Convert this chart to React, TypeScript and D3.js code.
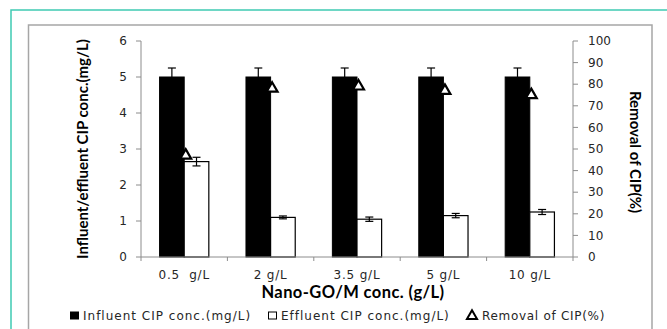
import React from "react";
import * as d3 from "d3";

// Nano-GO/M dose categories
const categories = ["0.5  g/L", "2 g/L", "3.5 g/L", "5 g/L", "10 g/L"];
// Influent CIP concentration (mg/L) and its error
const influent = [5, 5, 5, 5, 5];
const influentErr = [0.25, 0.25, 0.25, 0.25, 0.25];
// Effluent CIP concentration (mg/L) and its error
const effluent = [2.65, 1.1, 1.05, 1.15, 1.25];
const effluentErr = [0.12, 0.04, 0.06, 0.06, 0.07];
// Removal of CIP (%)
const removal = [47, 78, 79, 77, 75];

const leftTicks = [0, 1, 2, 3, 4, 5, 6];
const rightTicks = [0, 10, 20, 30, 40, 50, 60, 70, 80, 90, 100];

const W = 667;
const H = 329;
const plot = { left: 141, right: 573, top: 41, bottom: 257 };
const tickFont = "'DejaVu Sans', Verdana, sans-serif";
const titleFont = "Lato, 'Open Sans', sans-serif";
const axisColor = "#8c8c8c";

export default function App() {
  const x = d3
    .scaleBand<string>()
    .domain(categories)
    .range([plot.left, plot.right])
    .paddingInner(0.43)
    .paddingOuter(0.215);
  const sub = d3.scaleBand<number>().domain([0, 1]).range([0, x.bandwidth()]);
  const yL = d3.scaleLinear().domain([0, 6]).range([plot.bottom, plot.top]);
  const yR = d3.scaleLinear().domain([0, 100]).range([plot.bottom, plot.top]);
  const tri = d3.symbol().type(d3.symbolTriangle).size(52)();
  const legendTri = d3.symbol().type(d3.symbolTriangle).size(44)();
  const step = x.step();
  const catEdges = d3.range(categories.length + 1).map((i) => plot.left + i * step);

  const errBar = (cx: number, v: number, e: number, key: string) => (
    <g key={key} stroke="#000" strokeWidth={1.2}>
      <line x1={cx} x2={cx} y1={yL(v + e)} y2={yL(v - e)} />
      <line x1={cx - 4} x2={cx + 4} y1={yL(v + e)} y2={yL(v + e)} />
      <line x1={cx - 4} x2={cx + 4} y1={yL(v - e)} y2={yL(v - e)} />
    </g>
  );

  return (
    <svg
      width={W}
      height={H}
      style={{ position: "absolute", left: 0, top: 0, background: "#fff" }}
    >
      {/* outer frames */}
      <rect x={11} y={10} width={700} height={400} fill="none" stroke="#3fcab3" strokeWidth={1.5} />
      <rect x={28.5} y={25} width={623.5} height={400} fill="none" stroke="#a6a6a6" strokeWidth={1.5} />

      {/* bars */}
      {categories.map((c, i) => {
        const x0 = x(c)!;
        const bw = sub.bandwidth();
        return (
          <g key={c}>
            <rect
              x={x0 + sub(0)!}
              y={yL(influent[i])}
              width={bw}
              height={yL(0) - yL(influent[i])}
              fill="#000"
              stroke="#000"
            />
            <rect
              x={x0 + sub(1)!}
              y={yL(effluent[i])}
              width={bw}
              height={yL(0) - yL(effluent[i])}
              fill="#fff"
              stroke="#000"
              strokeWidth={1.2}
            />
            {errBar(x0 + sub(0)! + bw / 2, influent[i], influentErr[i], "ei")}
            {errBar(x0 + sub(1)! + bw / 2, effluent[i], effluentErr[i], "ee")}
          </g>
        );
      })}

      {/* removal markers */}
      {categories.map((c, i) => (
        <path
          key={c}
          d={tri!}
          transform={`translate(${x(c)! + x.bandwidth() / 2 + 1.5},${yR(removal[i])})`}
          fill="#fff"
          stroke="#000"
          strokeWidth={2.2}
          strokeLinejoin="miter"
        />
      ))}

      {/* left axis */}
      <line x1={plot.left} x2={plot.left} y1={plot.top} y2={plot.bottom} stroke={axisColor} />
      {leftTicks.map((t) => (
        <g key={t}>
          <line x1={plot.left - 5} x2={plot.left} y1={yL(t)} y2={yL(t)} stroke={axisColor} />
          <text
            x={127}
            y={yL(t)}
            dy="0.35em"
            textAnchor="end"
            fontFamily={tickFont}
            fontSize={12}
            fill="#262626"
          >
            {t}
          </text>
        </g>
      ))}

      {/* right axis */}
      <line x1={plot.right} x2={plot.right} y1={plot.top} y2={plot.bottom} stroke={axisColor} />
      {rightTicks.map((t) => (
        <g key={t}>
          <line x1={plot.right} x2={plot.right + 5} y1={yR(t)} y2={yR(t)} stroke={axisColor} />
          <text
            x={588}
            y={yR(t)}
            dy="0.35em"
            textAnchor="start"
            fontFamily={tickFont}
            fontSize={12}
            fill="#262626"
          >
            {t}
          </text>
        </g>
      ))}

      {/* category axis */}
      <line x1={plot.left} x2={plot.right} y1={plot.bottom} y2={plot.bottom} stroke={axisColor} />
      {catEdges.map((e, i) => (
        <line key={i} x1={e} x2={e} y1={plot.bottom} y2={plot.bottom + 4} stroke={axisColor} />
      ))}
      {categories.map((c) => (
        <text
          key={c}
          x={x(c)! + x.bandwidth() / 2}
          y={275}
          dy="0.35em"
          textAnchor="middle"
          fontFamily={tickFont}
          fontSize={12}
          letterSpacing={0.8}
          fill="#262626"
          style={{ whiteSpace: "pre" }}
        >
          {c}
        </text>
      ))}

      {/* axis titles */}
      <text
        x={(plot.left + plot.right) / 2 - 4}
        y={292}
        dy="0.35em"
        textAnchor="middle"
        fontFamily={titleFont}
        fontWeight="bold"
        fontSize={16.5}
        letterSpacing={0.4}
        fill="#000"
      >
        Nano-GO/M conc. (g/L)
      </text>
      <text
        transform={`translate(83,${(plot.top + plot.bottom) / 2}) rotate(-90)`}
        dy="0.35em"
        textAnchor="middle"
        fontFamily={titleFont}
        fontWeight="bold"
        fontSize={15}
        fill="#000"
      >
        Influent/effluent CIP conc.(mg/L)
      </text>
      <text
        transform={`translate(635,152) rotate(90)`}
        dy="0.35em"
        textAnchor="middle"
        fontFamily={titleFont}
        fontWeight="bold"
        fontSize={15}
        fill="#000"
      >
        Removal of CIP(%)
      </text>

      {/* legend */}
      <g fontFamily={tickFont} fontSize={12} fill="#262626" letterSpacing={1}>
        <rect x={70.5} y={312} width={8} height={7} fill="#000" stroke="#000" />
        <text x={83} y={316} dy="0.35em">Influent CIP conc.(mg/L)</text>
        <rect x={268.5} y={312} width={8} height={7} fill="#fff" stroke="#000" />
        <text x={281} y={316} dy="0.35em">Effluent CIP conc.(mg/L)</text>
        <path
          d={legendTri!}
          transform="translate(472,316)"
          fill="#fff"
          stroke="#000"
          strokeWidth={2}
        />
        <text x={482} y={316} dy="0.35em" letterSpacing={0.7}>Removal of CIP(%)</text>
      </g>
    </svg>
  );
}
